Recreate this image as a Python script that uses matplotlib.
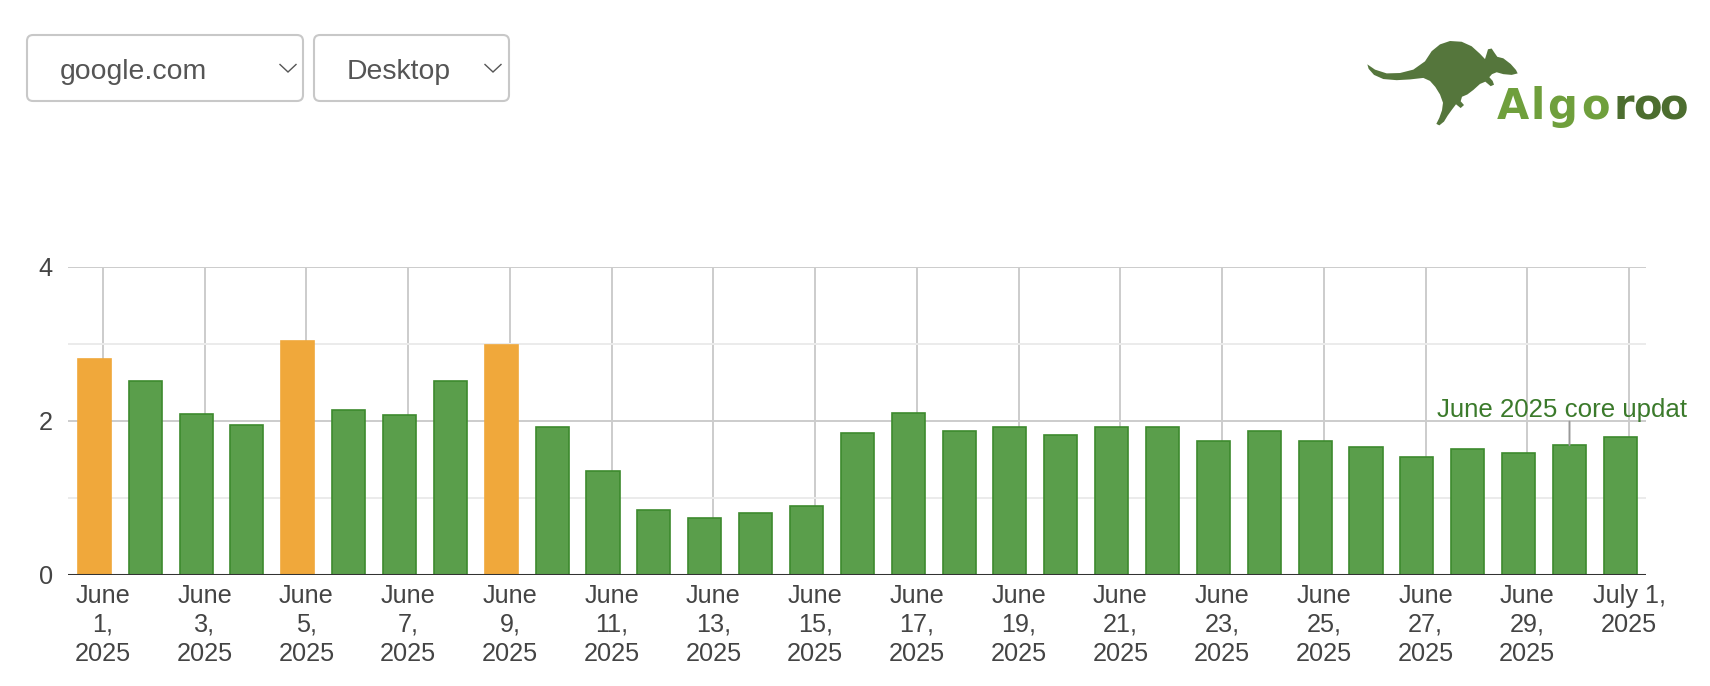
import matplotlib
matplotlib.use("Agg")
import matplotlib.pyplot as plt
import numpy as np
from matplotlib.patches import FancyBboxPatch, Polygon
from matplotlib.transforms import Bbox, TransformedBbox

# ---------------- data ----------------
day_labels = ["June 1", "June 2", "June 3", "June 4", "June 5", "June 6", "June 7",
              "June 8", "June 9", "June 10", "June 11", "June 12", "June 13", "June 14",
              "June 15", "June 16", "June 17", "June 18", "June 19", "June 20", "June 21",
              "June 22", "June 23", "June 24", "June 25", "June 26", "June 27", "June 28",
              "June 29", "June 30", "July 1"]
values = [2.80, 2.51, 2.09, 1.94, 3.03, 2.14, 2.07, 2.51, 2.98, 1.91, 1.34, 0.84,
          0.74, 0.80, 0.89, 1.84, 2.10, 1.86, 1.92, 1.81, 1.92, 1.92, 1.74, 1.86,
          1.74, 1.66, 1.53, 1.63, 1.58, 1.68, 1.79]
highlighted = ["June 1", "June 5", "June 9"]
tick_labels = ["June\n1,\n2025", "June\n3,\n2025", "June\n5,\n2025", "June\n7,\n2025",
               "June\n9,\n2025", "June\n11,\n2025", "June\n13,\n2025", "June\n15,\n2025",
               "June\n17,\n2025", "June\n19,\n2025", "June\n21,\n2025", "June\n23,\n2025",
               "June\n25,\n2025", "June\n27,\n2025", "June\n29,\n2025", "July 1,\n2025"]
y_ticks = [0, 2, 4]
y_minor = [1, 3]
annotation_day = "June 30"
annotation_text = "June 2025 core update"
dropdown_1 = "google.com"
dropdown_2 = "Desktop"

# ---------------- style ----------------
W, H = 1710, 686
plt.rcParams["font.family"] = ["Liberation Sans", "DejaVu Sans"]
GREEN = "#5a9e4b"
GREEN_EDGE = "#3d8a2e"
ORANGE = "#f0a83b"
TXT = "#444444"

fig = plt.figure(figsize=(W / 100, H / 100), dpi=100)
fig.patch.set_facecolor("white")

# overlay axes in pixel coordinates for the page decorations
bg = fig.add_axes([0, 0, 1, 1], zorder=-1)
bg.set_xlim(0, W)
bg.set_ylim(H, 0)
bg.axis("off")

def fx(x):
    return x / W

def fy(y):
    return 1 - y / H

ax_l, ax_r, ax_t, ax_b = 68, 1646, 266.5, 574.5
ax = fig.add_axes([fx(ax_l), fy(ax_b), fx(ax_r) - fx(ax_l), fy(ax_t) - fy(ax_b)])

x = np.arange(len(values))
shift = -0.17
fills = [ORANGE if d in highlighted else GREEN for d in day_labels]
edges = [ORANGE if d in highlighted else GREEN_EDGE for d in day_labels]
ax.bar(x + shift, values, width=0.65, color=fills, edgecolor=edges,
       linewidth=1.2, zorder=3)

ax.set_xlim(-0.688, 30.334)
ax.set_ylim(0, 4)
ax.set_yticks(y_ticks)
ax.set_yticks(y_minor, minor=True)
ax.set_xticks(x[::2])
ax.set_xticklabels(tick_labels, fontsize=18.2, color=TXT, linespacing=1.28)
ax.set_yticklabels([str(v) for v in y_ticks], fontsize=18.2, color=TXT)
ax.tick_params(axis="x", length=0, pad=6.5)
ax.tick_params(axis="y", which="both", length=0, pad=11)
ax.grid(axis="y", which="major", color="#cccccc", linewidth=1.4, zorder=0)
ax.grid(axis="y", which="minor", color="#ebebeb", linewidth=1.4, zorder=0)
ax.grid(axis="x", which="major", color="#cccccc", linewidth=1.4, zorder=0)
ax.set_axisbelow(True)
for s in ax.spines.values():
    s.set_visible(False)
ax.axhline(0, color="#333333", linewidth=2.2, zorder=4)

# annotation
ai = day_labels.index(annotation_day)
ax.annotate("", xy=(ai + shift, values[ai]), xytext=(0, 23.5),
            textcoords="offset pixels",
            arrowprops=dict(arrowstyle="-", color="#999999", lw=1.4,
                            shrinkA=0, shrinkB=0),
            annotation_clip=False, zorder=5)
ann = ax.annotate(annotation_text, xy=(ai + shift, values[ai]), xytext=(0, 28.5),
                  textcoords="offset pixels", ha="center", va="baseline",
                  fontsize=18.6, color="#3b7a2b", annotation_clip=False, zorder=5)
ann.set_clip_on(True)
ann.set_clip_box(TransformedBbox(Bbox.from_extents(0, 0, fx(1687), 1), fig.transFigure))

# dropdowns
for (x0, x1, label, tx, cx) in [(27, 303, dropdown_1, 60, 288), (314, 509, dropdown_2, 347, 493)]:
    box = FancyBboxPatch((x0, 35), x1 - x0, 66, boxstyle="round,pad=0,rounding_size=6",
                         facecolor="white", edgecolor="#c8c8c8", linewidth=1.5)
    bg.add_patch(box)
    bg.text(tx, 79, label, fontsize=20.4, color="#555555", ha="left", va="baseline")
    bg.plot([cx - 8, cx, cx + 8], [64.5, 72, 64.5], color="#555555", linewidth=1.0,
            solid_joinstyle="miter")

# logo: kangaroo silhouette (outline points in a 3x local frame)
kz = [(22, 80), (45, 94), (80, 104), (120, 103), (160, 94), (195, 72),
      (215, 45), (240, 27), (270, 18), (305, 20), (335, 32), (360, 52), (375, 66),
      (380, 52), (384, 40), (395, 38), (404, 50), (412, 60),
      (430, 64), (452, 79), (468, 95), (473, 104),
      (455, 108), (430, 106), (410, 101), (396, 106), (388, 114),
      (398, 124), (402, 134), (392, 138), (376, 126),
      (360, 132), (340, 148), (322, 160),
      (306, 166), (302, 178), (312, 188), (302, 196), (288, 186),
      (276, 200), (263, 216), (252, 232), (238, 242), (229, 238), (238, 222),
      (246, 202), (249, 182), (240, 160), (226, 140), (210, 124), (190, 116),
      (150, 120), (110, 122), (70, 119), (42, 108), (26, 92)]
kpts = [(1360 + px / 3, 41 + (py - 18) / 3 * 1.13) for px, py in kz]
bg.add_patch(Polygon(kpts, closed=True, facecolor="#55763c", edgecolor="none"))

logo_letters = ["A", "l", "g", "o", "r", "o", "o"]
logo_x = [1513, 1538, 1562, 1595.5, 1623.5, 1647, 1673]
logo_colors = ["#6f9f3c"] * 4 + ["#4c6d2f"] * 3
for ch, lx, lc in zip(logo_letters, logo_x, logo_colors):
    bg.text(lx, 119, ch, fontsize=30, fontweight="bold", color=lc, ha="center",
            va="baseline", family="DejaVu Sans")

fig.savefig("out.png", dpi=100, facecolor="white")
